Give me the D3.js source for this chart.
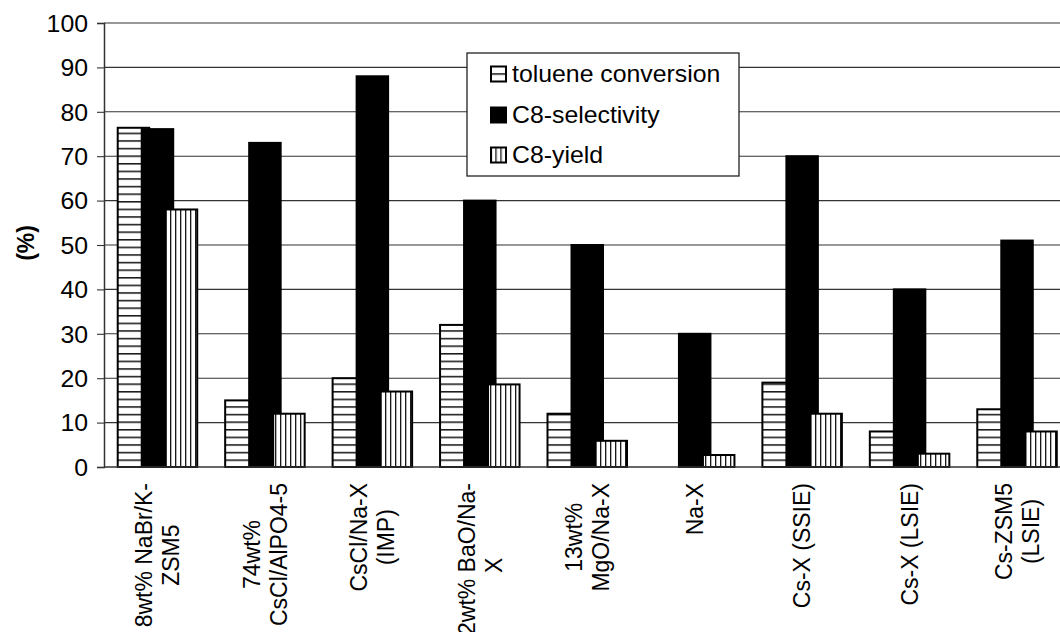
<!DOCTYPE html>
<html>
<head>
<meta charset="utf-8">
<script src="https://cdn.jsdelivr.net/npm/d3@7"></script>
<style>
  html, body { margin: 0; padding: 0; background: #fff; }
  svg { display: block; font-family: "Liberation Sans", Arial, sans-serif; }
</style>
</head>
<body>
<svg id="chart" width="1060" height="632"></svg>
<script>
// ---- data ----
const categories = [
  "8wt% NaBr/K-\nZSM5",
  "74wt%\nCsCl/AlPO4-5",
  "CsCl/Na-X\n(IMP)",
  "12wt% BaO/Na-\nX",
  "13wt%\nMgO/Na-X",
  "Na-X",
  "Cs-X (SSIE)",
  "Cs-X (LSIE)",
  "Cs-ZSM5\n(LSIE)"
];
const seriesNames = ["toluene conversion", "C8-selectivity", "C8-yield"];
const tolueneConversion = [76.4, 15, 20, 32, 12, 0, 19, 8, 13];
const c8Selectivity = [76.1, 73, 88, 60, 50, 30, 70, 40, 51];
const c8Yield = [58, 12, 17, 18.6, 5.9, 2.7, 12, 3, 8];
const yTicks = [0, 10, 20, 30, 40, 50, 60, 70, 80, 90, 100];
const yTitle = "(%)";

// ---- layout ----
const svg = d3.select("#chart");
const sx = 1.08;           // horizontal text stretch of the reference
const fontSize = 23;
const x = d3.scaleBand().domain(d3.range(categories.length)).range([104, 1071]).padding(0);
const y = d3.scaleLinear().domain([0, 100]).range([467, 23]);
const barW = 31.5, barStep = 24, groupStart = -40;

const defs = svg.append("defs");
function hPattern(id, px, py, h) {
  const p = defs.append("pattern").attr("id", id).attr("patternUnits", "userSpaceOnUse")
    .attr("x", px).attr("y", py).attr("width", 8).attr("height", h);
  p.append("rect").attr("width", 8).attr("height", h).attr("fill", "#fff");
  p.append("line").attr("x1", 0).attr("x2", 8).attr("y1", 0.8).attr("y2", 0.8)
    .attr("stroke", "#000").attr("stroke-width", 1.4);
}
function vPattern(id, px, py, w) {
  const p = defs.append("pattern").attr("id", id).attr("patternUnits", "userSpaceOnUse")
    .attr("x", px).attr("y", py).attr("width", w).attr("height", 8);
  p.append("rect").attr("width", w).attr("height", 8).attr("fill", "#fff");
  p.append("line").attr("x1", 0.7).attr("x2", 0.7).attr("y1", 0).attr("y2", 8)
    .attr("stroke", "#000").attr("stroke-width", 1.2);
}
hPattern("hp", 0, 467, 7.6);
vPattern("vp", 0, 0, 5);

// ---- gridlines ----
svg.append("g").selectAll("line").data(yTicks.filter(d => d > 0)).join("line")
  .attr("x1", 104).attr("x2", 1060)
  .attr("y1", d => y(d)).attr("y2", d => y(d))
  .attr("stroke", "#333").attr("stroke-width", 1.1);

// ---- y axis ----
const yAxis = svg.append("g").attr("transform", "translate(104,0)")
  .call(d3.axisLeft(y).tickValues(yTicks).tickSize(7).tickPadding(0).tickFormat(d3.format("d")));
yAxis.select(".domain").attr("stroke", "#333").attr("stroke-width", 1.5);
yAxis.selectAll(".tick line").attr("stroke", "#333").attr("stroke-width", 1.1);
yAxis.selectAll(".tick text").remove();
yAxis.selectAll(".tick").append("text")
  .attr("transform", `translate(-16,0) scale(${sx},1)`)
  .attr("text-anchor", "end").attr("dy", "0.36em")
  .attr("font-size", fontSize).attr("fill", "#000")
  .attr("font-family", "'Liberation Sans', Arial, sans-serif")
  .text(d => d);

// y title
svg.append("text")
  .attr("transform", `translate(25,243) scale(${sx},1) rotate(-90)`)
  .attr("text-anchor", "middle").attr("dy", "0.36em")
  .attr("font-size", fontSize).attr("font-weight", "bold")
  .text(yTitle);

// ---- bars ----
const series = [
  { values: tolueneConversion, fill: "url(#hp)" },
  { values: c8Selectivity, fill: "#000" },
  { values: c8Yield, fill: "url(#vp)" }
];
const barsG = svg.append("g");
series.forEach((s, si) => {
  barsG.append("g").selectAll("rect")
    .data(s.values.map((v, i) => ({ v, i })).filter(d => d.v > 0))
    .join("rect")
    .attr("x", d => x(d.i) + x.bandwidth() / 2 + groupStart + si * barStep)
    .attr("width", barW)
    .attr("y", d => y(d.v))
    .attr("height", d => y(0) - y(d.v))
    .attr("fill", s.fill)
    .attr("stroke", "#000").attr("stroke-width", 2);
});

// baseline
svg.append("line").attr("x1", 104).attr("x2", 1060).attr("y1", y(0)).attr("y2", y(0))
  .attr("stroke", "#333").attr("stroke-width", 1.5);

// ---- x labels ----
const lineGap = 25;
categories.forEach((c, i) => {
  const lines = c.split("\n");
  const g = svg.append("g")
    .attr("transform", `translate(${x(i) + x.bandwidth() / 2 - 1},483) scale(${sx},1)`);
  const texts = lines.map(t => g.append("text")
    .attr("font-size", fontSize).attr("text-anchor", "middle").attr("dy", "0.36em").text(t));
  const lmax = d3.max(texts, t => t.node().getComputedTextLength());
  texts.forEach((t, k) => {
    const dx = (k - (lines.length - 1) / 2) * lineGap;
    t.attr("transform", `translate(${dx},${lmax / 2}) rotate(-90)`);
  });
});

// ---- legend ----
const lg = svg.append("g");
lg.append("rect").attr("x", 467).attr("y", 53).attr("width", 272).attr("height", 123)
  .attr("fill", "#fff").attr("stroke", "#222").attr("stroke-width", 1.3);
const rowsY = [74, 115, 155];
const sw = 15;
hPattern("lh", 491, rowsY[0] - sw / 2 - 0.8 + sw / 2, sw);
vPattern("lv", 491 + 5 - 0.7, 0, 5);
seriesNames.forEach((name, k) => {
  const fill = k === 0 ? "url(#lh)" : k === 1 ? "#000" : "url(#lv)";
  lg.append("rect").attr("x", 491).attr("y", rowsY[k] - sw / 2).attr("width", sw).attr("height", sw)
    .attr("fill", fill).attr("stroke", "#000").attr("stroke-width", 2);
  lg.append("text")
    .attr("transform", `translate(512,${rowsY[k]}) scale(${sx},1)`)
    .attr("dy", "0.36em").attr("font-size", fontSize).text(name);
});
</script>
</body>
</html>
